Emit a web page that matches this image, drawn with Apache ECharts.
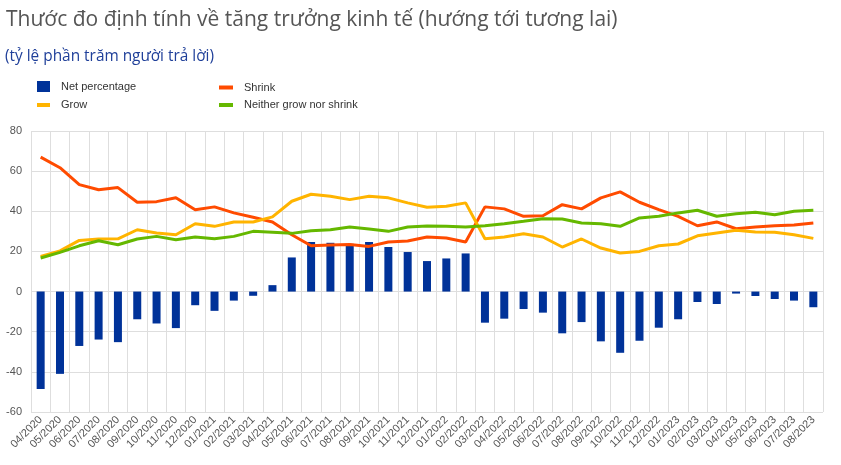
<!DOCTYPE html>
<html>
<head>
<meta charset="utf-8">
<script src="https://cdn.jsdelivr.net/npm/echarts@6/dist/echarts.min.js"></script>
<style>
html,body{margin:0;padding:0;background:#fff;}
#chart{width:841px;height:465px;}
</style>
</head>
<body>
<div id="chart"></div>
<script>
var categories = ['04/2020','05/2020','06/2020','07/2020','08/2020','09/2020','10/2020','11/2020','12/2020',
  '01/2021','02/2021','03/2021','04/2021','05/2021','06/2021','07/2021','08/2021','09/2021','10/2021','11/2021','12/2021',
  '01/2022','02/2022','03/2022','04/2022','05/2022','06/2022','07/2022','08/2022','09/2022','10/2022','11/2022','12/2022',
  '01/2023','02/2023','03/2023','04/2023','05/2023','06/2023','07/2023','08/2023'];
var netPercentage = [-48.6,-41.0,-27.1,-23.9,-25.2,-13.8,-15.9,-18.2,-6.8,-9.6,-4.5,-2.1,3.2,
  17.0,24.7,24.3,23.8,24.7,22.2,19.7,15.2,16.5,19.0,
  -15.5,-13.5,-8.7,-10.5,-20.8,-15.2,-24.8,-30.5,-24.5,-18.0,-13.8,-5.2,-6.2,-1.0,-2.2,-3.7,-4.5,-7.8];
var shrink = [67.0,61.7,53.3,50.7,51.8,44.5,44.8,46.7,40.8,42.2,39.2,37.0,34.7,
  28.3,22.8,23.2,23.5,22.5,24.7,25.2,27.2,26.7,24.7,
  42.2,41.2,37.5,37.8,43.3,41.2,46.7,49.7,44.5,40.8,37.5,32.8,34.7,31.3,32.2,32.8,33.2,34.2];
var grow = [17.5,20.3,25.5,26.2,26.3,30.8,29.2,28.3,33.8,32.5,34.7,34.7,37.2,
  45.0,48.5,47.5,45.8,47.5,46.7,44.2,42.0,42.5,44.2,
  26.3,27.2,28.8,27.2,22.2,26.2,21.7,19.2,20.0,22.8,23.7,27.8,29.2,30.5,29.7,29.5,28.3,26.5];
var neither = [16.7,19.5,22.8,25.3,23.3,26.2,27.5,25.8,27.2,26.3,27.5,30.0,29.5,
  29.0,30.3,30.8,32.2,31.2,30.0,32.2,32.7,32.5,32.2,
  32.8,33.8,35.0,36.3,36.2,34.2,33.8,32.5,36.7,37.5,39.2,40.5,37.5,38.8,39.5,38.3,40.0,40.5];
var yTicks = {min:-60, max:80, interval:20};

var colNet = '#003299', colShrink = '#ff4b00', colGrow = '#ffb400', colNeither = '#65b800';
var chart = echarts.init(document.getElementById('chart'));
var legendText = {fontFamily:'Liberation Sans, Arial, sans-serif', fontSize:11, color:'#333', padding:[0,0,0,6]};
function leg(name, left, top, w, h){
  return {data:[name], left:left, top:top, itemWidth:w, itemHeight:h, itemGap:0,
    icon:'rect', textStyle:legendText, selectedMode:false, padding:0};
}
chart.setOption({
  animation:false,
  title:[
    {text:'Thước đo định tính về tăng trưởng kinh tế (hướng tới tương lai)', left:1, top:5,
     textStyle:{fontFamily:'Open Sans, sans-serif', fontSize:21, fontWeight:'normal', color:'#555'}},
    {text:'(tỷ lệ phần trăm người trả lời)', left:0, top:44,
     textStyle:{fontFamily:'Open Sans, sans-serif', fontSize:15.4, fontWeight:'normal', color:'#1f3f99'}}
  ],
  legend:[
    leg('Net percentage', 37, 81, 13, 11),
    leg('Shrink', 219, 82, 14, 4),
    leg('Grow', 37, 99.5, 13, 4),
    leg('Neither grow nor shrink', 219, 99.5, 14, 4)
  ],
  grid:{left:31, right:18, top:131, bottom:53},
  xAxis:{type:'category', data:categories, boundaryGap:true,
    axisLine:{show:false}, axisTick:{show:false},
    splitLine:{show:true, lineStyle:{color:'#dedede', width:1}},
    axisLabel:{rotate:45, interval:0, fontFamily:'Liberation Sans, Arial, sans-serif', fontSize:11, color:'#555', margin:6}},
  yAxis:{type:'value', min:yTicks.min, max:yTicks.max, interval:yTicks.interval,
    axisLine:{show:false}, axisTick:{show:false},
    splitLine:{lineStyle:{color:'#dedede', width:1}},
    axisLabel:{fontFamily:'Liberation Sans, Arial, sans-serif', fontSize:11, color:'#555', margin:9}},
  series:[
    {name:'Net percentage', type:'bar', data:netPercentage, barWidth:8, itemStyle:{color:colNet}},
    {name:'Shrink', type:'line', data:shrink, symbol:'none', lineStyle:{width:3, color:colShrink}, itemStyle:{color:colShrink}},
    {name:'Grow', type:'line', data:grow, symbol:'none', lineStyle:{width:3, color:colGrow}, itemStyle:{color:colGrow}},
    {name:'Neither grow nor shrink', type:'line', data:neither, symbol:'none', lineStyle:{width:3, color:colNeither}, itemStyle:{color:colNeither}}
  ]
});
</script>
</body>
</html>
